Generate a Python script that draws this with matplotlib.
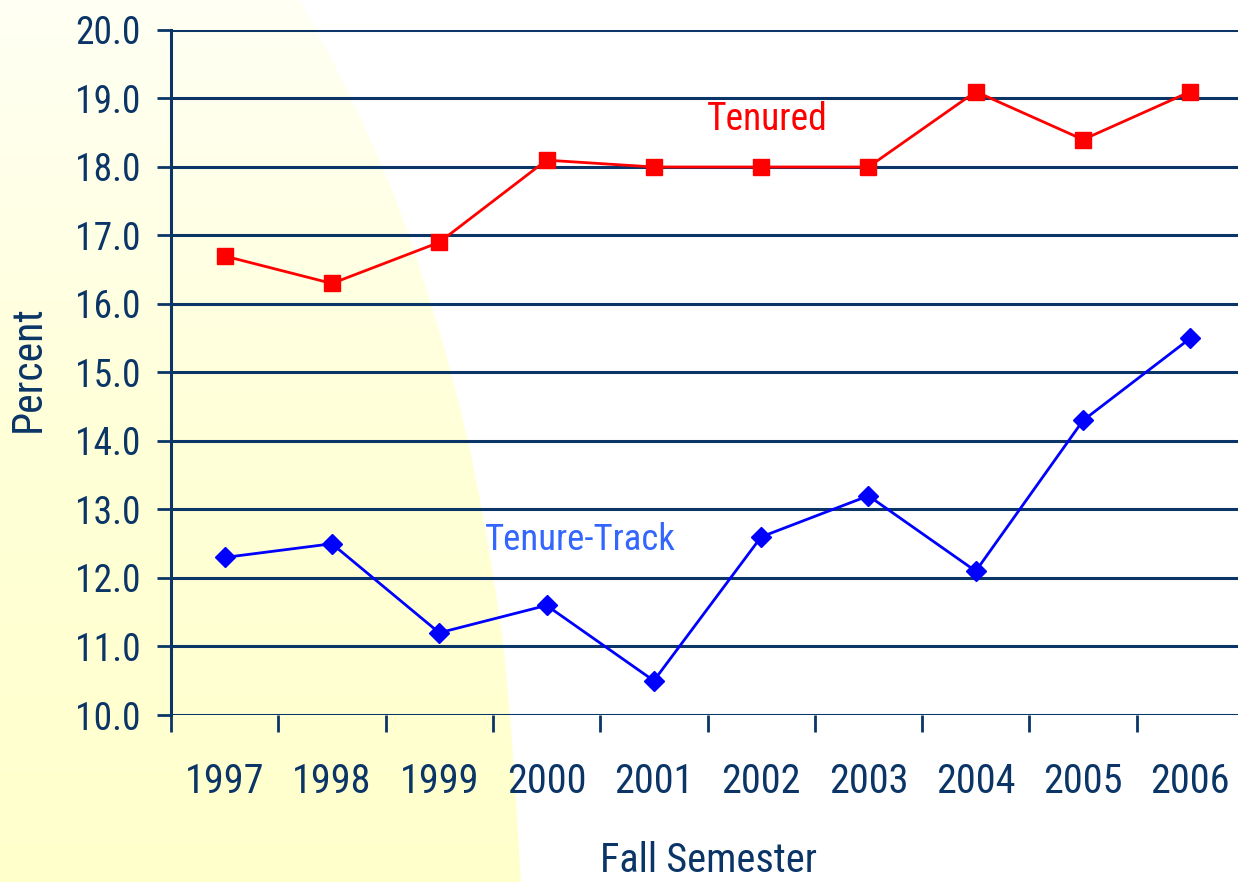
import matplotlib
matplotlib.use("Agg")
import matplotlib.pyplot as plt
import numpy as np
from matplotlib.patches import Polygon
from matplotlib import font_manager
from matplotlib.colors import LinearSegmentedColormap

years = ["1997", "1998", "1999", "2000", "2001", "2002", "2003", "2004", "2005", "2006"]
tenured = [16.7, 16.3, 16.9, 18.1, 18.0, 18.0, 18.0, 19.1, 18.4, 19.1]
tenure_track = [12.3, 12.5, 11.2, 11.6, 10.5, 12.6, 13.2, 12.1, 14.3, 15.5]
y_ticks = [10.0, 11.0, 12.0, 13.0, 14.0, 15.0, 16.0, 17.0, 18.0, 19.0, 20.0]

names = {f.name for f in font_manager.fontManager.ttflist}
fam = [n for n in ["Roboto Condensed", "Liberation Sans Narrow", "DejaVu Sans Condensed"] if n in names] + ["DejaVu Sans"]
plt.rcParams['font.family'] = fam

NAVY = "#0a3566"
W, H = 1238, 882
fig = plt.figure(figsize=(W / 100, H / 100), dpi=100)
fig.patch.set_facecolor("white")

# background decorative gradient
bg = fig.add_axes([0, 0, 1, 1], zorder=0)
bg.set_xlim(0, W)
bg.set_ylim(H, 0)
bg.axis("off")
grad = np.linspace(0, 1, 256).reshape(-1, 1)
cmap = LinearSegmentedColormap.from_list("y", ["#fffff4", "#ffffd8", "#ffffcc"])
im = bg.imshow(grad, cmap=cmap, extent=[0, W, H, 0], aspect="auto")
edge = [(300, 0), (327, 50), (352, 100), (375, 150), (396, 200), (414, 250), (430, 300),
        (445, 350), (458, 400), (470, 450), (480, 500), (489, 550), (497, 600),
        (504, 650), (510, 715), (516, 800), (521, 882), (0, 882), (0, 0)]
poly = Polygon(edge, closed=True, transform=bg.transData, facecolor="none", edgecolor="none")
bg.add_patch(poly)
im.set_clip_path(poly)

ax = fig.add_axes([171 / W, 1 - 715 / H, 1073 / W, 685 / H], zorder=1)
ax.patch.set_alpha(0)
x = np.arange(len(years))
ax.set_xlim(-0.5, len(years) - 0.5)
ax.set_ylim(10, 20)

for yv in y_ticks:
    ax.axhline(yv, color=NAVY, lw=2.2, zorder=1)

ax.plot(x, tenured, color="#ff0000", lw=2, marker="s", ms=11, zorder=3)
ax.plot(x, tenure_track, color="#0000ff", lw=2, marker="D", ms=10, zorder=3)

for s in ["top", "right", "bottom"]:
    ax.spines[s].set_visible(False)
ax.spines["left"].set_color(NAVY)
ax.spines["left"].set_linewidth(2.2)

ax.set_yticks(y_ticks)
ax.set_yticklabels([f"{v:.1f}" for v in y_ticks])
ax.tick_params(axis="y", length=10, width=2, color=NAVY, labelcolor=NAVY, labelsize=27, pad=12)

ax.set_xticks(np.arange(-0.5, len(years), 1.0))
ax.set_xticklabels([])
ax.tick_params(axis="x", which="major", length=12, width=2, color=NAVY, direction="out")
ax.set_xticks(x, minor=True)
ax.set_xticklabels(years, minor=True)
ax.tick_params(axis="x", which="minor", length=0, labelcolor=NAVY, labelsize=29, pad=34)

fig.text(28 / W, 1 - 369 / H, "Percent", rotation=90, ha="center", va="center", color=NAVY, fontsize=30)
fig.text(708 / W, 1 - 860 / H, "Fall Semester", ha="center", va="center", color=NAVY, fontsize=29)

ax.text(5.06, 18.69, "Tenured", color="#ff0000", fontsize=27, ha="center", va="center", zorder=4)
ax.text(3.31, 12.55, "Tenure-Track", color="#3366ff", fontsize=26.5, ha="center", va="center", zorder=4)

fig.savefig("out.png", dpi=100, facecolor=fig.get_facecolor())
